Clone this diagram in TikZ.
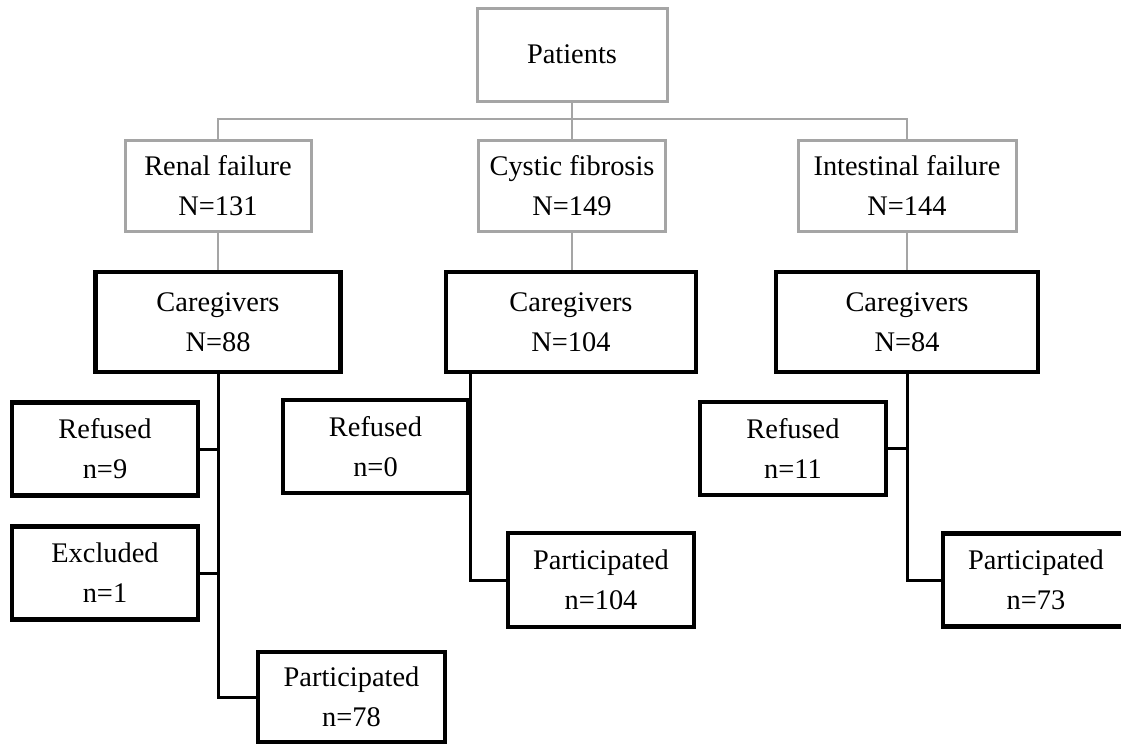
\documentclass[tikz,border=0pt]{standalone}
\usepackage{fontspec}
\setmainfont{Liberation Serif}
\definecolor{boxgray}{RGB}{165,165,165}

\begin{document}
\begin{tikzpicture}[x=1pt, y=-1pt,
        font=\fontsize{28.4}{40}\selectfont,
        gbox/.style={draw=boxgray, line width=3pt, align=center, inner sep=0pt, minimum height=91pt},
        bbox/.style={draw, line width=4.5pt, align=center, inner sep=0pt, minimum height=93pt},
        gl/.style={draw=boxgray, line width=2.5pt},
        bl/.style={line width=3pt}
    ]
        \useasboundingbox (0,0) rectangle (1121,744);
        \node (patients) [gbox, minimum width=190pt, minimum height=93pt] at (572,54.5) {Patients};
        \node (renal) [gbox, minimum width=186pt] at (218,185.5) {Renal failure\\N=131};
        \node (cystic) [gbox, minimum width=187pt] at (572,185.5) {Cystic fibrosis\\N=149};
        \node (intest) [gbox, minimum width=218pt] at (907,185.5) {Intestinal failure\\N=144};
        \node (care1) [bbox, minimum width=245pt, minimum height=100pt] at (218,322) {Caregivers\\N=88};
        \node (care2) [bbox, minimum width=250pt, minimum height=100pt] at (571,322) {Caregivers\\N=104};
        \node (care3) [bbox, minimum width=262pt, minimum height=100pt] at (907,322) {Caregivers\\N=84};
        \node (ref1) [bbox, minimum width=186pt] at (105,449) {Refused\\n=9};
        \node (exc1) [bbox, minimum width=186pt] at (105,573) {Excluded\\n=1};
        \node (part1) [bbox, minimum width=187pt, minimum height=90pt] at (351.5,697) {Participated\\n=78};
        \node (ref2) [bbox, minimum width=185pt] at (375.5,446.5) {Refused\\n=0};
        \node (part2) [bbox, minimum width=186pt, minimum height=94pt] at (601,580) {Participated\\n=104};
        \node (ref3) [bbox, minimum width=186pt] at (793,448.5) {Refused\\n=11};
        \node (part3) [bbox, minimum width=186pt] at (1036,580) {Participated\\n=73};
        \coordinate (hub) at (572,119);
        \coordinate (spine2) at (470,372);
        \draw[gl] (patients) -- (hub);
        \draw[gl] (renal) |- (hub) -| (intest);
        \draw[gl] (hub) -- (cystic);
        \draw[gl] (renal) -- (care1);
        \draw[gl] (cystic.south) -- (cystic.south |- care2.north);
        \draw[gl] (intest) -- (care3);
        \draw[bl] (care1) |- (part1);
        \draw[bl] (ref1) -- (ref1 -| care1);
        \draw[bl] (exc1) -- (exc1 -| care1);
        \draw[bl] (spine2) |- (part2);
        \draw[bl] (care3) |- (part3);
        \draw[bl] (ref3) -- (ref3 -| care3);
    \end{tikzpicture}
\end{document}
